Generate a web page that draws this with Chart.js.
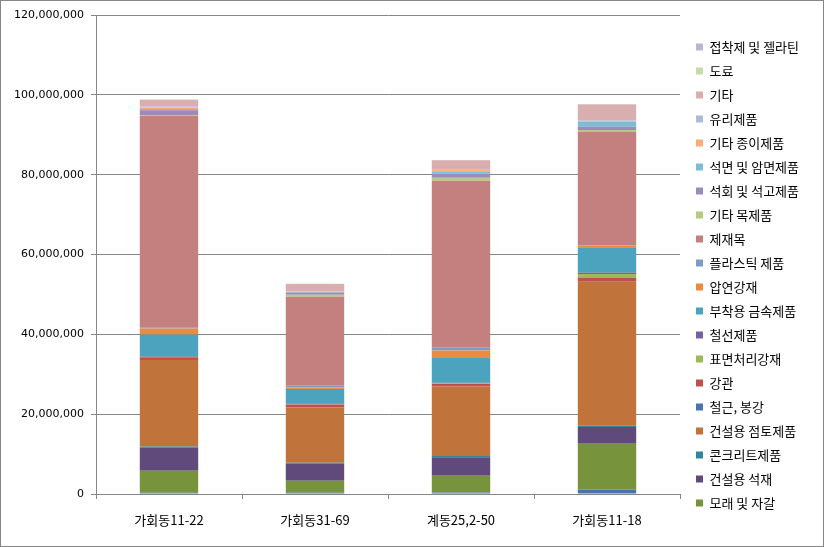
<!DOCTYPE html>
<html>
<head>
<meta charset="utf-8">
<script src="https://cdn.jsdelivr.net/npm/chart.js@4.4.0/dist/chart.umd.min.js"></script>
<style>
  html, body { margin: 0; padding: 0; background: #fff; }
  #wrap { width: 824px; height: 547px; }
</style>
</head>
<body>
<div id="wrap"><canvas id="chart" width="824" height="547"></canvas></div>
<script>
const categories = ['가회동11-22', '가회동31-69', '계동25,2-50', '가회동11-18'];

// series in stacking order (bottom first)
const rebar = [300000, 300000, 400000, 1100000];
const sandGravel = [5500000, 3000000, 4200000, 11500000];
const stone = [5800000, 4300000, 4600000, 4200000];
const concrete = [300000, 250000, 300000, 300000];
const clay = [21700000, 13900000, 17400000, 36100000];
const steelPipe = [650000, 650000, 650000, 900000];
const coatedSteel = [150000, 100000, 150000, 1000000];
const wireProducts = [150000, 100000, 150000, 400000];
const metalFittings = [5400000, 3700000, 6400000, 6300000];
const rolledSteel = [1500000, 400000, 1700000, 400000];
const plastic = [200000, 400000, 800000, 100000];
const lumber = [53100000, 22300000, 41700000, 28400000];
const otherWood = [200000, 500000, 800000, 500000];
const gypsum = [1200000, 600000, 1000000, 800000];
const asbestos = [300000, 100000, 500000, 1300000];
const otherPaper = [400000, 100000, 400000, 100000];
const glass = [200000, 100000, 200000, 200000];
const other = [1700000, 1800000, 2250000, 4000000];
const paint = [50000, 50000, 50000, 50000];
const adhesive = [50000, 50000, 50000, 50000];

const yTicks = [0, 20000000, 40000000, 60000000, 80000000, 100000000, 120000000];

// legend order, top to bottom
const legendOrder = ['접착제 및 젤라틴', '도료', '기타', '유리제품', '기타 종이제품', '석면 및 암면제품',
  '석회 및 석고제품', '기타 목제품', '제재목', '플라스틱 제품', '압연강재', '부착용 금속제품', '철선제품',
  '표면처리강재', '강관', '철근, 봉강', '건설용 점토제품', '콘크리트제품', '건설용 석재', '모래 및 자갈'];

const series = [
  ['철근, 봉강', rebar, '#4A72B0'],
  ['모래 및 자갈', sandGravel, '#77933C'],
  ['건설용 석재', stone, '#604A7B'],
  ['콘크리트제품', concrete, '#31859C'],
  ['건설용 점토제품', clay, '#C0743C'],
  ['강관', steelPipe, '#C0504D'],
  ['표면처리강재', coatedSteel, '#9BBB59'],
  ['철선제품', wireProducts, '#7560A0'],
  ['부착용 금속제품', metalFittings, '#4BA3BE'],
  ['압연강재', rolledSteel, '#EC8B40'],
  ['플라스틱 제품', plastic, '#7E9BC8'],
  ['제재목', lumber, '#C4807E'],
  ['기타 목제품', otherWood, '#B3CC82'],
  ['석회 및 석고제품', gypsum, '#9C8AB8'],
  ['석면 및 암면제품', asbestos, '#7DBCD4'],
  ['기타 종이제품', otherPaper, '#F9AD77'],
  ['유리제품', glass, '#A9BCD9'],
  ['기타', other, '#D9AEAE'],
  ['도료', paint, '#C9DBA8'],
  ['접착제 및 젤라틴', adhesive, '#BFB3D3']
];

const FONT = "'Noto Sans CJK KR', 'Noto Sans', sans-serif";
const GRAY = '#868686';

// keeps the legend at a fixed width and nudges it to match the reference
const legendFix = {
  id: 'legendFix',
  beforeLayout(chart) {
    const lg = chart.legend;
    if (lg && !lg._patched) {
      const fit = lg.fit;
      lg.fit = function () {
        fit.call(this);
        this.width = 144;
      };
      lg._patched = true;
    }
  },
  afterLayout(chart) {
    const lg = chart.legend;
    lg.left += 5; lg.right += 5;
    lg.top -= 6; lg.bottom -= 6;
  },
  afterDraw(chart) {
    const ctx = chart.ctx;
    ctx.save();
    ctx.strokeStyle = GRAY;
    ctx.lineWidth = 1;
    ctx.strokeRect(0.5, 0.5, 823, 546);
    ctx.restore();
  }
};

new Chart(document.getElementById('chart').getContext('2d'), {
  type: 'bar',
  data: {
    labels: categories,
    datasets: series.map(s => ({
      label: s[0],
      data: s[1],
      backgroundColor: s[2],
      borderWidth: 0,
      categoryPercentage: 1,
      barPercentage: 0.4
    }))
  },
  options: {
    responsive: false,
    animation: false,
    layout: { padding: { top: 15, right: 0, bottom: 0, left: 0 } },
    plugins: {
      tooltip: { enabled: false },
      legend: {
        position: 'right',
        align: 'center',
        labels: {
          boxWidth: 7,
          boxHeight: 7,
          padding: 11,
          color: '#000',
          font: { family: FONT, size: 13 },
          sort: (a, b) => legendOrder.indexOf(a.text) - legendOrder.indexOf(b.text)
        }
      }
    },
    scales: {
      x: {
        stacked: true,
        offset: true,
        grid: { display: true, drawOnChartArea: false, drawTicks: true, tickLength: 5, color: GRAY, offset: true },
        border: { color: GRAY },
        ticks: { color: '#000', font: { family: FONT, size: 13 }, padding: 13, maxRotation: 0 },
        afterFit(scale) { scale.height = 53; }
      },
      y: {
        stacked: true,
        min: 0,
        max: 120000000,
        afterBuildTicks(scale) { scale.ticks = yTicks.map(v => ({ value: v })); },
        grid: { color: GRAY, tickLength: 5 },
        border: { color: GRAY },
        ticks: {
          color: '#000',
          padding: 7,
          font: { family: "'DejaVu Sans', sans-serif", size: 11 },
          callback: v => Number(v).toLocaleString('en-US')
        },
        afterFit(scale) { scale.width = 96; }
      }
    }
  },
  plugins: [legendFix]
});
</script>
</body>
</html>
